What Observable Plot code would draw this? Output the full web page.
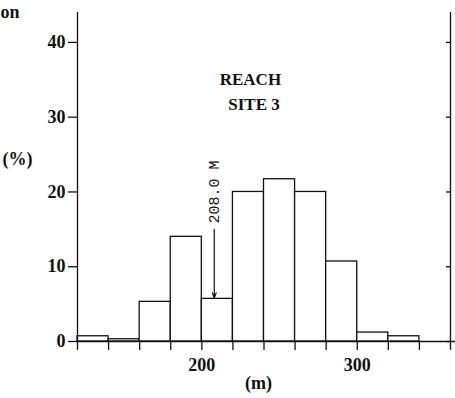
<!DOCTYPE html>
<html>
<head>
<meta charset="utf-8">
<script src="https://cdn.jsdelivr.net/npm/d3@7"></script>
<script src="https://cdn.jsdelivr.net/npm/@observablehq/plot@0.6"></script>
<style>
  html, body { margin: 0; padding: 0; background: #fff; }
  #chart svg { display: block; }
</style>
</head>
<body>
<div id="chart"></div>
<script>
// ---- data ----
const binEdges = [120, 140, 160, 180, 200, 220, 240, 260, 280, 300, 320, 340, 360];
const percent  = [0.7, 0.3, 5.3, 14.0, 5.7, 20.0, 21.7, 20.0, 10.7, 1.2, 0.7, 0];
const yTicks = [0, 10, 20, 30, 40];
const xTicks = [120, 140, 160, 180, 200, 220, 240, 260, 280, 300, 320, 340, 360];
const xLabelled = [200, 300];
const meanValue = 208.0;
const meanLabel = "208.0 M";
const titleLines = ["REACH", "SITE 3"];

const bins = percent.map((p, i) => ({x1: binEdges[i], x2: binEdges[i + 1], y: p}));

const serif = "'Liberation Serif', 'DejaVu Serif', serif";
const mono = "'Liberation Mono', 'DejaVu Sans Mono', monospace";

const chart = Plot.plot({
  width: 455,
  height: 398,
  marginLeft: 77,
  marginRight: 0,
  marginTop: 12,
  marginBottom: 57,
  style: {fontFamily: serif, fontSize: "18px", fontWeight: "bold", background: "#fff", color: "#111"},
  x: {domain: [120, 360], range: [77, 450]},
  y: {domain: [0, 44], range: [341, 12]},
  marks: [
    Plot.rectY(bins, {x1: "x1", x2: "x2", y: "y", fill: "white", stroke: "#111", strokeWidth: 1.3}),
    Plot.ruleY([0], {stroke: "#111", strokeWidth: 1.5}),
    Plot.ruleX([120, 360], {stroke: "#111", strokeWidth: 1.3}),
    Plot.axisY(yTicks, {anchor: "left", tickSize: 9, tickPadding: 3, label: null, strokeWidth: 1.3,
      fontSize: 18, fontWeight: "bold", fontFamily: serif}),
    Plot.axisY(yTicks, {anchor: "right", tickSize: 5, dx: -10, label: null, tickFormat: () => "", strokeWidth: 1.3}),
    Plot.axisX(xTicks, {anchor: "bottom", tickSize: 9, tickPadding: 8, label: null, strokeWidth: 1.3,
      tickFormat: d => xLabelled.includes(d) ? String(d) : "",
      fontSize: 18, fontWeight: "bold", fontFamily: serif}),
    // axis unit labels
    Plot.text(["(%)"], {frameAnchor: "top-left", dx: -60, dy: 140, textAnchor: "middle", fontSize: 18, fontWeight: "bold", fontFamily: serif}),
    Plot.text(["(m)"], {frameAnchor: "bottom-left", dx: 181, dy: 47, textAnchor: "middle", fontSize: 18, fontWeight: "bold", fontFamily: serif}),
    // cut-off title fragment
    Plot.text(["on"], {frameAnchor: "top-left", dx: -77, dy: -7, textAnchor: "start", fontSize: 18, fontWeight: "bold", fontFamily: serif}),
    // title inside plot
    Plot.text([titleLines[0]], {x: [211.5], y: [35.0], textAnchor: "start", fontSize: 17, fontWeight: "bold", fontFamily: serif}),
    Plot.text([titleLines[1]], {x: [217], y: [31.7], textAnchor: "start", fontSize: 17, fontWeight: "bold", fontFamily: serif}),
    // mean arrow and label
    Plot.arrow([meanValue], {x1: d => d, x2: d => d, y1: 15.0, y2: percent[4] + 0.1, stroke: "#111", strokeWidth: 1.2, headLength: 7, headAngle: 40}),
    Plot.text([meanLabel], {x: d => meanValue, y: 20.0, text: d => d, rotate: -90, textAnchor: "middle", fontSize: 15, fontWeight: "normal", fontFamily: mono, fill: "#111"})
  ]
});
document.getElementById("chart").appendChild(chart);
</script>
</body>
</html>
